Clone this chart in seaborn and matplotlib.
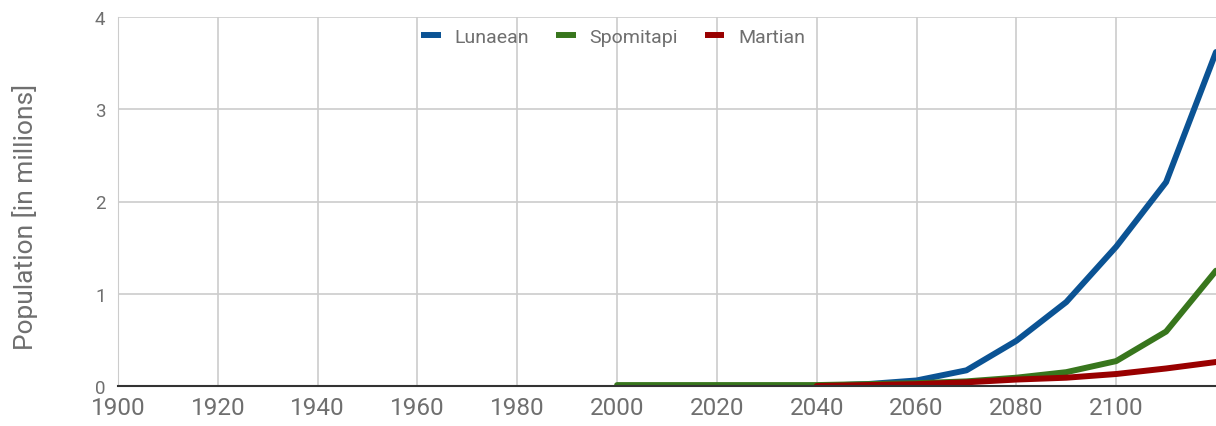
import pandas as pd
import seaborn as sns
import matplotlib.pyplot as plt

# values (population in millions)
years_lunaean = [2040, 2050, 2060, 2070, 2080, 2090, 2100, 2110, 2120]
lunaean = [0.0, 0.02, 0.06, 0.17, 0.49, 0.91, 1.51, 2.21, 3.62]

years_spomitapi = [2000, 2010, 2020, 2030, 2040, 2050, 2060, 2070, 2080, 2090, 2100, 2110, 2120]
spomitapi = [0.01, 0.01, 0.01, 0.01, 0.01, 0.02, 0.03, 0.05, 0.09, 0.15, 0.27, 0.59, 1.25]

years_martian = [2040, 2050, 2060, 2070, 2080, 2090, 2100, 2110, 2120]
martian = [0.0, 0.01, 0.02, 0.04, 0.07, 0.09, 0.13, 0.19, 0.26]

x_ticks = list(range(1900, 2101, 20))
y_ticks = [0, 1, 2, 3, 4]

frames = []
for name, yrs, vals in [("Lunaean", years_lunaean, lunaean),
                        ("Spomitapi", years_spomitapi, spomitapi),
                        ("Martian", years_martian, martian)]:
    frames.append(pd.DataFrame({"Year": yrs, "Population": vals, "Race": name}))
df = pd.concat(frames, ignore_index=True)

palette = {"Lunaean": "#0b5394", "Spomitapi": "#38761d", "Martian": "#990000"}

sns.set_style("white")
plt.rcParams["font.family"] = ["Roboto", "DejaVu Sans"]
text_col = "#6f6f6f"

fig = plt.figure(figsize=(12.16, 4.27), dpi=100)
ax = fig.add_axes([118 / 1216, 40 / 427, 1 - 118 / 1216, 369 / 427])

sns.lineplot(data=df, x="Year", y="Population", hue="Race", palette=palette,
             linewidth=4.3, ax=ax, zorder=3)

ax.set_xlim(1900, 2120)
ax.set_ylim(0, 4)
ax.set_xticks(x_ticks)
ax.set_yticks(y_ticks)
ax.grid(True, color="#cccccc", linewidth=1.2, zorder=0)
ax.set_axisbelow(True)
ax.tick_params(axis="x", labelsize=17.5, length=0, pad=7)
ax.tick_params(axis="y", labelsize=13.5, length=0, pad=9)
for lab in ax.get_xticklabels() + ax.get_yticklabels():
    lab.set_color(text_col)

for side in ["top", "right"]:
    ax.spines[side].set_visible(False)
ax.spines["left"].set_color("#cccccc")
ax.spines["bottom"].set_color("#333333")
ax.spines["bottom"].set_linewidth(1.5)
ax.spines["bottom"].set_zorder(4)

ax.set_xlabel("")
ax.set_ylabel("Population [in millions]", fontsize=19, color=text_col)
ax.yaxis.set_label_coords(-0.073, 0.46)

leg = ax.legend(loc="upper center", bbox_to_anchor=(0.451, 1.018), ncol=3, frameon=False,
                fontsize=14, handlelength=1.0, handletextpad=0.7, columnspacing=1.4)
for line in leg.get_lines():
    line.set_linewidth(4.3)
    line.set_solid_capstyle("butt")
for t in leg.get_texts():
    t.set_color(text_col)

fig.savefig("out.png", dpi=100)
